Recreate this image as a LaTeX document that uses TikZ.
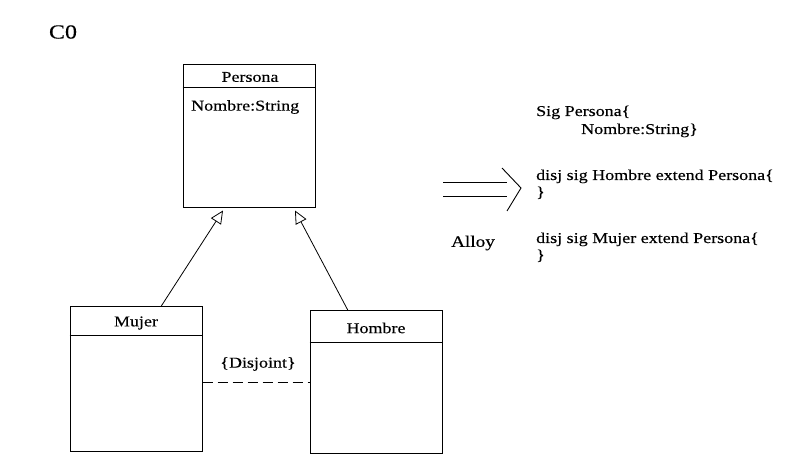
\documentclass[tikz,border=0pt]{standalone}
\usepackage{fontspec}
\setmainfont{Liberation Serif}[FakeStretch=1.2, FakeBold=0.3]
\usetikzlibrary{arrows.meta,calc}
\begin{document}
\begin{tikzpicture}[x=1pt,y=-1pt,
  umlbox/.style={draw, line width=1pt, minimum width=132pt, inner sep=0pt},
  hline/.style={line width=1pt},
  txt/.style={font=\fontsize{15}{17}\selectfont, inner sep=0pt},
  code/.style={txt, anchor=base west},
  gen/.style={-{Triangle[open,length=13pt,width=12pt]}, line width=0.8pt},
  disjline/.style={line width=0.9pt, dash pattern=on 10pt off 5pt},
  implies/.style={line width=0.9pt}]
\useasboundingbox (0,0) rectangle (787,454);

% title
\node[font=\fontsize{20}{22}\selectfont, inner sep=0pt] (c0) at (63,32) {C0};

% Persona
\node[umlbox, minimum height=143pt] (persona) at (249,136.5) {};
\draw[hline] ($(persona.north west)+(0,23)$) -- ($(persona.north east)+(0,23)$);
\node[txt] (personat) at (250,77) {Persona};
\node[txt, anchor=west] (personaa) at (191,107) {Nombre:String};

% Mujer
\node[umlbox, minimum height=144pt] (mujer) at (136,379) {};
\draw[hline] ($(mujer.north west)+(0,29)$) -- ($(mujer.north east)+(0,29)$);
\node[txt] (mujert) at (136,323) {Mujer};

% Hombre
\node[umlbox, minimum height=142pt] (hombre) at (376,382) {};
\draw[hline] ($(hombre.north west)+(0,32)$) -- ($(hombre.north east)+(0,32)$);
\node[txt] (hombret) at (376,328) {Hombre};

% generalizations
\draw[gen] ($(mujer.north)+(25,0)$) -- ($(persona.south)+(-26,2)$);
\draw[gen] ($(hombre.north)+(-28,0)$) -- ($(persona.south)+(46,2)$);

% disjoint
\coordinate (dj) at (256,382);
\draw[disjline] (mujer.east |- dj) -- (hombre.west |- dj);
\node[txt] (disj) at (258,364) {\{Disjoint\}};

% implication arrow
\coordinate (a1) at (443,182);
\coordinate (a2) at (507,182);
\coordinate (b1) at (443,196);
\coordinate (b2) at (507,196);
\coordinate (c1) at (502,168);
\coordinate (c2) at (521,188);
\coordinate (c3) at (507,211);
\draw[implies] (a1) -- (a2);
\draw[implies] (b1) -- (b2);
\draw[implies] (c1) -- (c2) -- (c3);
\node[font=\fontsize{16}{18}\selectfont, inner sep=0pt] (alloy) at (473,243) {Alloy};

% Alloy code
\node[code] (l1) at (536,116) {Sig Persona\{};
\node[code] (l2) at (581,134) {Nombre:String\}};
\node[code] (l3) at (536,180) {disj sig Hombre extend Persona\{};
\node[code] (l4) at (536,197) {\}};
\node[code] (l5) at (536,243) {disj sig Mujer extend Persona\{};
\node[code] (l6) at (536,260) {\}};
\end{tikzpicture}
\end{document}
